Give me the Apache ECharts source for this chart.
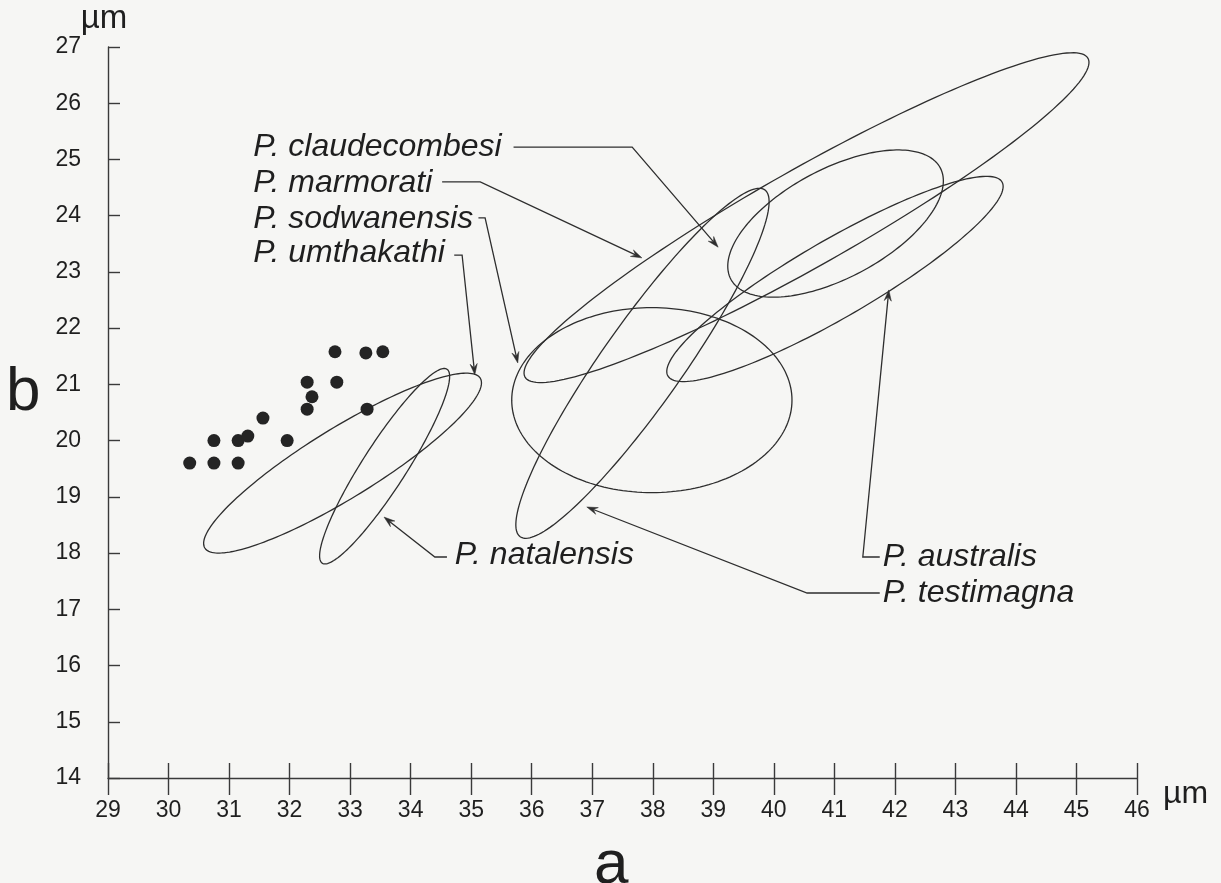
<!DOCTYPE html>
<html><head><meta charset="utf-8">
<script src="https://cdn.jsdelivr.net/npm/echarts@6/dist/echarts.min.js"></script>
<style>html,body{margin:0;padding:0;background:#f6f6f4}#c{width:1221px;height:883px}</style>
</head><body><div id="c"></div>
<script>
// ---- data ----
const xMin = 29, xMax = 46;
const yMin = 14, yMax = 27;
// individual measurements (dots)
const dotsX = [30.35, 30.75, 31.15, 30.75, 31.15, 31.31, 31.56, 31.96, 32.29, 32.37, 32.29, 32.78, 32.75, 33.26, 33.54, 33.28];
const dotsY = [19.60, 19.60, 19.60, 20.00, 20.00, 20.08, 20.40, 20.00, 20.56, 20.78, 21.04, 21.04, 21.58, 21.56, 21.58, 20.56];
// species ranges as ellipses: ends of the long axis and width ratio
const speciesNames = ['P. umthakathi', 'P. natalensis', 'P. sodwanensis', 'P. marmorati', 'P. australis', 'P. testimagna', 'P. claudecombesi'];
const ellipseEndA = [[30.60, 18.09], [32.54, 17.82], [35.67, 20.72], [35.89, 21.13], [38.25, 21.15], [35.81, 18.29], [39.29, 22.87]];
const ellipseEndB = [[35.15, 21.11], [34.60, 21.27], [40.30, 20.72], [45.19, 26.80], [43.77, 24.60], [39.85, 24.46], [42.75, 24.85]];
const ellipseRatio = [0.216, 0.19, 0.66, 0.15, 0.20, 0.19, 0.46];
// label anchors (left, middle) and connector paths
const labelNames = ['P. claudecombesi', 'P. marmorati', 'P. sodwanensis', 'P. umthakathi', 'P. natalensis', 'P. australis', 'P. testimagna'];
const labelAnchor = [[31.40, 25.22], [31.40, 24.58], [31.40, 23.94], [31.40, 23.34], [34.73, 17.97], [41.80, 17.93], [41.80, 17.29]];
const connectors = [
  [[35.70, 25.22], [37.66, 25.22], [39.08, 23.44]],
  [[34.52, 24.60], [35.15, 24.60], [37.82, 23.25]],
  [[35.12, 23.96], [35.23, 23.96], [35.77, 21.38]],
  [[34.72, 23.30], [34.85, 23.30], [35.06, 21.17]],
  [[34.60, 17.93], [34.40, 17.93], [33.56, 18.64]],
  [[41.75, 17.93], [41.47, 17.93], [41.90, 22.68]],
  [[41.75, 17.29], [40.55, 17.29], [36.91, 18.82]]
];

// ---- rendering ----
const INK = '#2e2e2e';
const FONT = '"Liberation Sans", Arial, Helvetica, sans-serif';
const chart = echarts.init(document.getElementById('c'), null, {renderer: 'canvas'});

function renderEllipse(params, api) {
  const p1 = api.coord([api.value(0), api.value(1)]);
  const p2 = api.coord([api.value(2), api.value(3)]);
  const cx = (p1[0] + p2[0]) / 2, cy = (p1[1] + p2[1]) / 2;
  const dx = p2[0] - p1[0], dy = p2[1] - p1[1];
  const a = Math.hypot(dx, dy) / 2, b = a * api.value(4);
  const ang = Math.atan2(dy, dx);
  const pts = [];
  for (let i = 0; i < 180; i++) {
    const t = i / 180 * 2 * Math.PI;
    const ex = a * Math.cos(t), ey = b * Math.sin(t);
    pts.push([cx + ex * Math.cos(ang) - ey * Math.sin(ang), cy + ex * Math.sin(ang) + ey * Math.cos(ang)]);
  }
  return {type: 'polygon', shape: {points: pts}, style: {fill: 'none', stroke: INK, lineWidth: 1.3}};
}

function renderConnector(params, api) {
  const pts = [0, 1, 2].map(i => api.coord([api.value(2 * i), api.value(2 * i + 1)]));
  const tip = pts[2], from = pts[1];
  const ang = Math.atan2(tip[1] - from[1], tip[0] - from[0]);
  const L = 11, W = 3.6, N = 7;
  const c = Math.cos(ang), s = Math.sin(ang);
  const back = [tip[0] - L * c, tip[1] - L * s];
  const notch = [tip[0] - N * c, tip[1] - N * s];
  const head = [tip, [back[0] + W * s, back[1] - W * c], notch, [back[0] - W * s, back[1] + W * c]];
  return {type: 'group', children: [
    {type: 'polyline', shape: {points: [pts[0], pts[1], notch]}, style: {fill: 'none', stroke: INK, lineWidth: 1.3}},
    {type: 'polygon', shape: {points: head}, style: {fill: INK, stroke: INK, lineWidth: 0.5}}
  ]};
}

function renderLabel(params, api) {
  const p = api.coord([api.value(0), api.value(1)]);
  return {type: 'text', x: p[0], y: p[1], style: {
    text: labelNames[params.dataIndex], fill: '#1f1f1f',
    font: 'italic 32px ' + FONT, align: 'left', verticalAlign: 'middle'}};
}

const axisCommon = {
  type: 'value', min: xMin, max: xMax, interval: 1,
  splitLine: {show: false}
};

chart.setOption({
  backgroundColor: '#f6f6f4',
  animation: false,
  grid: {left: 108, right: 84, top: 47, bottom: 105, containLabel: false},
  xAxis: [
    Object.assign({}, axisCommon, {
      position: 'bottom',
      axisLine: {show: true, lineStyle: {color: '#3a3a3a', width: 1.4}},
      axisTick: {show: true, inside: true, length: 15, lineStyle: {color: '#3a3a3a', width: 1.4}},
      axisLabel: {show: true, margin: 21, fontSize: 23, color: '#1f1f1f', fontFamily: FONT},
      name: 'µm', nameLocation: 'end', nameGap: 26,
      nameTextStyle: {fontSize: 32, color: '#1f1f1f', fontFamily: FONT, verticalAlign: 'top'}
    }),
    Object.assign({}, axisCommon, {
      position: 'bottom', offset: 0,
      axisLine: {show: false},
      axisTick: {show: true, inside: false, length: 17, lineStyle: {color: '#3a3a3a', width: 1.4}},
      axisLabel: {show: false}
    })
  ],
  yAxis: {
    type: 'value', min: yMin, max: yMax, interval: 1,
    splitLine: {show: false},
    axisLine: {show: true, lineStyle: {color: '#3a3a3a', width: 1.4}},
    axisTick: {show: true, inside: true, length: 12, lineStyle: {color: '#3a3a3a', width: 1.4}},
    axisLabel: {margin: 27, fontSize: 23, color: '#1f1f1f', fontFamily: FONT},
    name: 'µm', nameLocation: 'end', nameGap: 4,
    nameTextStyle: {fontSize: 33, color: '#1f1f1f', fontFamily: FONT, align: 'center', padding: [0, 8, 0, 0]}
  },
  graphic: [
    {type: 'text', x: 6, y: 393, style: {text: 'b', font: '62px ' + FONT, fill: '#1f1f1f', verticalAlign: 'middle'}},
    {type: 'text', x: 594, y: 866, style: {text: 'a', font: '62px ' + FONT, fill: '#1f1f1f', verticalAlign: 'middle'}}
  ],
  series: [
    {
      type: 'custom', name: 'ranges', renderItem: renderEllipse, clip: false,
      encode: {x: [0, 2], y: [1, 3]},
      data: speciesNames.map((n, i) => ({name: n, value: [ellipseEndA[i][0], ellipseEndA[i][1], ellipseEndB[i][0], ellipseEndB[i][1], ellipseRatio[i]]})),
      z: 2
    },
    {
      type: 'custom', name: 'connectors', renderItem: renderConnector, clip: false,
      encode: {x: [0, 2, 4], y: [1, 3, 5]},
      data: connectors.map(c => [c[0][0], c[0][1], c[1][0], c[1][1], c[2][0], c[2][1]]),
      z: 3
    },
    {
      type: 'custom', name: 'labels', renderItem: renderLabel, clip: false,
      encode: {x: 0, y: 1},
      data: labelAnchor,
      z: 4
    },
    {
      type: 'scatter', name: 'measurements', symbol: 'circle', symbolSize: 13,
      itemStyle: {color: '#242424', opacity: 1},
      data: dotsX.map((x, i) => [x, dotsY[i]]),
      z: 5
    }
  ]
});
</script></body></html>
